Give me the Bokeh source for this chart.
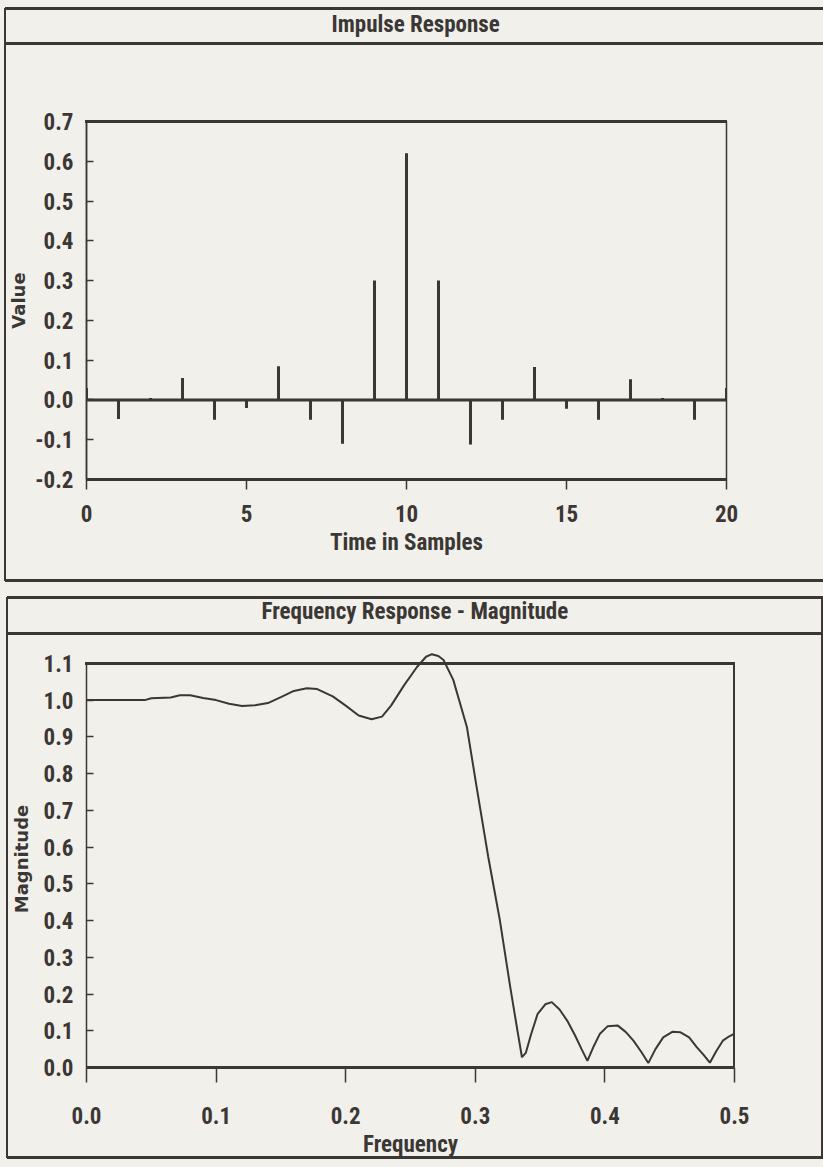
from bokeh.plotting import figure
from bokeh.models import (FixedTicker, Span, NumeralTickFormatter, Range1d, LinearAxis,
                          CustomJSTickFormatter)
from bokeh.embed import file_html
from bokeh.resources import INLINE

INK = "#3b3735"
PAPER = "#f2f0eb"
FONT = "Roboto Condensed"
LABEL_FONT = "DejaVu Sans"

# ---------------- data ----------------
samples = list(range(21))
impulse = [0.03, -0.048, 0.005, 0.055, -0.05, -0.02, 0.085, -0.05, -0.11, 0.30, 0.62,
           0.30, -0.112, -0.05, 0.083, -0.022, -0.05, 0.052, 0.005, -0.05, 0.03]
time_ticks = [0, 5, 10, 15, 20]
value_ticks = [-0.2, -0.1, 0.0, 0.1, 0.2, 0.3, 0.4, 0.5, 0.6, 0.7]

freq = [0.0, 0.02, 0.045, 0.05, 0.065, 0.072, 0.08, 0.09, 0.10, 0.11, 0.12, 0.13, 0.14,
        0.15, 0.16, 0.17, 0.178, 0.19, 0.20, 0.21, 0.22, 0.228, 0.235, 0.245, 0.255,
        0.262, 0.2665, 0.2715, 0.2755, 0.283, 0.2935, 0.301, 0.310, 0.319, 0.327, 0.333,
        0.336, 0.339, 0.343, 0.348, 0.354, 0.359, 0.365, 0.371, 0.377, 0.382, 0.3865,
        0.391, 0.396, 0.402, 0.41, 0.416, 0.422, 0.428, 0.4335, 0.439, 0.445, 0.452,
        0.458, 0.465, 0.471, 0.476, 0.481, 0.486, 0.491, 0.496, 0.5]
magnitude = [1.0, 1.0, 1.0, 1.005, 1.007, 1.013, 1.013, 1.006, 1.0, 0.99, 0.984, 0.986,
             0.992, 1.008, 1.025, 1.032, 1.03, 1.01, 0.985, 0.958, 0.948, 0.955, 0.985,
             1.04, 1.09, 1.118, 1.125, 1.12, 1.109, 1.055, 0.927, 0.764, 0.573, 0.40,
             0.218, 0.09, 0.028, 0.04, 0.09, 0.145, 0.172, 0.178, 0.158, 0.127, 0.087,
             0.05, 0.018, 0.055, 0.091, 0.112, 0.114, 0.097, 0.073, 0.043, 0.012, 0.05,
             0.082, 0.097, 0.096, 0.082, 0.055, 0.035, 0.013, 0.045, 0.073, 0.085, 0.092]
freq_ticks = [0.0, 0.1, 0.2, 0.3, 0.4, 0.5]
mag_ticks = [0.0, 0.1, 0.2, 0.3, 0.4, 0.5, 0.6, 0.7, 0.8, 0.9, 1.0, 1.1]


def panel_css(rules):
    """Ruled panel frame (outer box + title band) drawn as CSS background strips."""
    return {
        "background-color": PAPER,
        "background-image": ", ".join([f"linear-gradient({INK}, {INK})"] * len(rules)),
        "background-size": ", ".join(f"{w}px {h}px" for (_, _, w, h) in rules),
        "background-position": ", ".join(f"{l}px {t}px" for (l, t, _, _) in rules),
        "background-repeat": "no-repeat",
    }


def base_fig(height, xr, yr, ml, mr, mt, mb, rules, title, title_gap, title_offset):
    p = figure(width=823, height=height, x_range=Range1d(*xr), y_range=Range1d(*yr),
               output_backend="svg", toolbar_location=None,
               min_border_left=ml, min_border_right=mr, min_border_top=mt, min_border_bottom=mb,
               background_fill_color=None, border_fill_color=None, styles=panel_css(rules))
    p.grid.visible = False
    p.outline_line_color = INK
    p.outline_line_width = 1.5
    xa = p.below[0]
    ya = p.left[0]
    for ax in (xa, ya):
        ax.major_label_text_font = FONT
        ax.major_label_text_font_size = "23px"
        ax.major_label_text_font_style = "bold"
        ax.major_label_text_color = INK
        ax.major_tick_line_color = INK
        ax.major_tick_line_width = 1.5
        ax.minor_tick_line_color = None
        ax.axis_line_color = INK
    ya.axis_line_width = 1.5
    ya.major_tick_in = 7
    ya.major_tick_out = 0
    ya.major_label_standoff = 13
    ya.axis_label_text_font = LABEL_FONT
    ya.axis_label_text_font_size = "18px"
    ya.axis_label_text_font_style = "bold"
    ya.axis_label_text_color = INK
    xa.axis_line_width = 3
    xa.major_tick_in = 0
    xa.axis_label_text_font = FONT
    xa.axis_label_text_font_size = "23px"
    xa.axis_label_text_font_style = "bold"
    xa.axis_label_text_color = INK
    xa.axis_label_standoff = 4
    # invisible spacer between the plot frame and the title band
    spacer = LinearAxis(ticker=FixedTicker(ticks=[xr[0]]), axis_line_color=None,
                        major_tick_line_color=None, minor_tick_line_color=None,
                        major_tick_in=0, major_tick_out=title_gap, major_label_standoff=0,
                        formatter=CustomJSTickFormatter(code="return ''"),
                        major_label_text_font_size="0px")
    p.add_layout(spacer, "above")
    p.title.text = title
    p.title.align = "left"
    p.title.offset = title_offset
    p.title.standoff = 0
    p.title.text_font = FONT
    p.title.text_font_size = "23px"
    p.title.text_font_style = "bold"
    p.title.text_color = INK
    return p, xa, ya


# ---------------- top panel: impulse response ----------------
top_rules = [(5, 7, 818, 3), (5, 42, 818, 3), (5, 579, 818, 3), (4, 8, 2, 573),
             (85, 120, 642, 3)]
p1, x1, y1 = base_fig(588, (0, 20), (-0.2, 0.7), 86, 97, 121, 109, top_rules,
                      "Impulse Response", 84, 245)
x1.ticker = FixedTicker(ticks=time_ticks)
x1.axis_label = "Time in Samples"
x1.major_tick_out = 10
x1.major_label_standoff = 15
y1.ticker = FixedTicker(ticks=value_ticks)
y1.formatter = NumeralTickFormatter(format="0.0")
y1.axis_label = "Value"
y1.axis_label_standoff = 3
p1.segment(x0=samples, y0=[0] * len(samples), x1=samples, y1=impulse,
           line_color=INK, line_width=3)
p1.add_layout(Span(location=0, dimension="width", line_color=INK, line_width=3))

# ---------------- bottom panel: frequency response ----------------
bot_rules = [(7, 8, 816, 3), (7, 44, 816, 3), (7, 568, 816, 3), (6, 9, 2, 561),
             (821, 9, 2, 561), (85, 74, 650, 3), (733, 75, 2, 404)]
p2, x2, y2 = base_fig(579, (0, 0.5), (0, 1.135), 86, 89, 62, 100, bot_rules,
                      "Frequency Response - Magnitude", 26, 175)
p2.outline_line_color = None
x2.ticker = FixedTicker(ticks=freq_ticks)
x2.formatter = NumeralTickFormatter(format="0.0")
x2.axis_label = "Frequency"
x2.major_tick_out = 15
x2.major_label_standoff = 24
y2.ticker = FixedTicker(ticks=mag_ticks)
y2.formatter = NumeralTickFormatter(format="0.0")
y2.bounds = (0, 1.1)
y2.axis_label = "Magnitude"
y2.axis_label_standoff = 9
p2.line(freq, magnitude, line_color=INK, line_width=2)

open("out.html", "w").write(file_html([p1, p2], INLINE))
